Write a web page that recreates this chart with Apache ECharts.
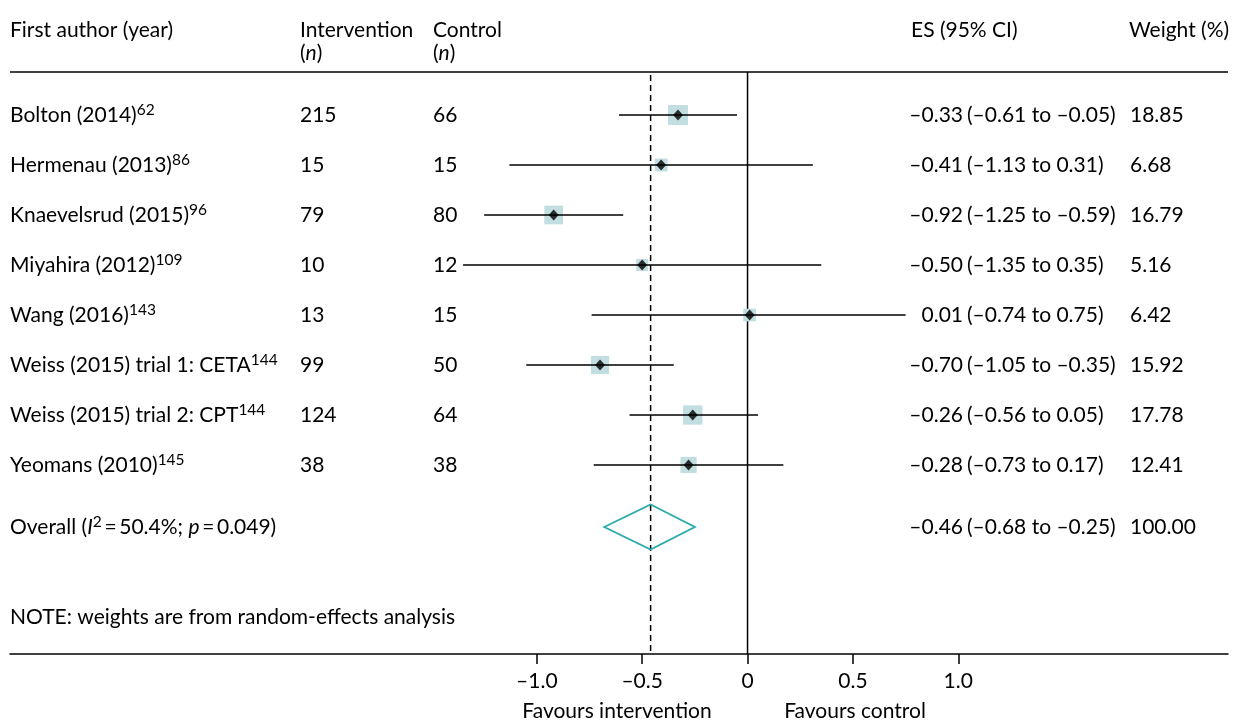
<!DOCTYPE html>
<html>
<head>
<meta charset="utf-8">
<script src="https://cdn.jsdelivr.net/npm/echarts@6/dist/echarts.min.js"></script>
<style>html,body{margin:0;padding:0;background:#fff;}#c{width:1233px;height:720px;}</style>
</head>
<body>
<div id="c"></div>
<script>
const authors = ['Bolton (2014)', 'Hermenau (2013)', 'Knaevelsrud (2015)', 'Miyahira (2012)', 'Wang (2016)', 'Weiss (2015) trial 1: CETA', 'Weiss (2015) trial 2: CPT', 'Yeomans (2010)'];
const refs = ['62', '86', '96', '109', '143', '144', '144', '145'];
const nIntervention = [215, 15, 79, 10, 13, 99, 124, 38];
const nControl = [66, 15, 80, 12, 15, 50, 64, 38];
const es = [-0.33, -0.41, -0.92, -0.50, 0.01, -0.70, -0.26, -0.28];
const ciLow = [-0.61, -1.13, -1.25, -1.35, -0.74, -1.05, -0.56, -0.73];
const ciHigh = [-0.05, 0.31, -0.59, 0.35, 0.75, -0.35, 0.05, 0.17];
const weights = [18.85, 6.68, 16.79, 5.16, 6.42, 15.92, 17.78, 12.41];
const overallEs = [-0.46];
const overallLow = [-0.68];
const overallHigh = [-0.25];
const overallWeight = [100.00];
const xTicks = [-1.0, -0.5, 0, 0.5, 1.0];
const xTickLabels = ['–1.0', '–0.5', '0', '0.5', '1.0'];

const FONT = 'Lato';
const FS = 21;
const LH = 26;
const COL = {author: 10, interv: 300, control: 433, esRight: 963, ciLeft: 967, weight: 1130};
const Y_HEAD = 0.14, Y_BOTTOM = 11.78, Y_OVERALL = 9.24, Y_NOTE = 11.04;
const X_MIN = -3.5, X_MAX = 2.28;

const fmt = v => (v < 0 ? '–' : '') + Math.abs(v).toFixed(2);
const rich = {
  sup: {fontSize: 15.5, fontFamily: FONT, verticalAlign: 'top', lineHeight: LH, fill: '#000'},
  it: {fontStyle: 'italic', fontSize: FS, fontFamily: FONT, lineHeight: LH, fill: '#000'},
  n: {fontSize: FS, fontFamily: FONT, lineHeight: LH, fill: '#000'}
};

function txt(x, y, text, align) {
  return {type: 'text', x: x, y: y, style: {text: text, fontFamily: FONT, fontSize: FS, fill: '#000', align: align || 'left', verticalAlign: 'middle', rich: rich, lineHeight: LH}};
}
function head(x, y, text) {
  return {type: 'text', x: x, y: y, style: {text: text, rich: rich, fontFamily: FONT, fontSize: FS, fill: '#000', align: 'left', verticalAlign: 'middle', lineHeight: LH}};
}

const tableData = authors.map((a, i) => [i, i + 1]);

const chart = echarts.init(document.getElementById('c'), null, {renderer: 'canvas'});
chart.setOption({
  animation: false,
  backgroundColor: '#fff',
  grid: {left: 10, right: 5, top: 65, bottom: 66, containLabel: false},
  xAxis: {
    type: 'value', min: X_MIN, max: X_MAX, position: 'bottom',
    axisLine: {show: true, onZero: false, lineStyle: {color: '#000', width: 1.5}},
    axisTick: {show: true, customValues: xTicks, length: 10, lineStyle: {color: '#000', width: 1.5}},
    axisLabel: {show: true, customValues: xTicks, margin: 17, color: '#000', fontFamily: FONT, fontSize: FS,
      formatter: v => { const k = xTicks.findIndex(t => Math.abs(t - v) < 1e-9); return k >= 0 ? xTickLabels[k] : ''; }},
    splitLine: {show: false}
  },
  yAxis: {type: 'value', min: 0, max: Y_BOTTOM, inverse: true, show: false},
  graphic: [
    head(10, 30, 'First author (year)'),
    head(300, 30, 'Intervention'),
    head(300, 53, '({it|n})'),
    head(433, 30, 'Control'),
    head(433, 53, '({it|n})'),
    head(911, 30, 'ES (95% CI)'),
    head(1129, 30, 'Weight (%)'),
    {type: 'text', x: 617, y: 711, style: {text: 'Favours intervention', fontFamily: FONT, fontSize: FS, fill: '#000', align: 'center', verticalAlign: 'middle'}},
    {type: 'text', x: 855, y: 711, style: {text: 'Favours control', fontFamily: FONT, fontSize: FS, fill: '#000', align: 'center', verticalAlign: 'middle'}}
  ],
  series: [
    {
      type: 'line', symbol: 'none', silent: true,
      data: [[X_MIN, Y_HEAD], [X_MAX, Y_HEAD]],
      lineStyle: {color: '#000', width: 1.5}, z: 1
    },
    {
      type: 'line', symbol: 'none', silent: true,
      data: [[0, Y_HEAD], [0, Y_BOTTOM]],
      lineStyle: {color: '#000', width: 1.5}, z: 1
    },
    {
      type: 'line', symbol: 'none', silent: true,
      data: [[overallEs[0], Y_HEAD + 0.06], [overallEs[0], Y_BOTTOM]],
      lineStyle: {color: '#000', width: 1.5, type: [6, 4]}, z: 1
    },
    {
      type: 'scatter', symbol: 'rect', silent: true,
      data: es.map((v, i) => [v, i + 1, weights[i]]),
      symbolSize: d => 9 + 0.58 * d[2],
      itemStyle: {color: '#c2dee1', opacity: 1}, z: 2
    },
    {
      type: 'custom', silent: true, z: 3,
      data: es.map((v, i) => [ciLow[i], ciHigh[i], i + 1]),
      renderItem: (params, api) => {
        const p1 = api.coord([api.value(0), api.value(2)]);
        const p2 = api.coord([api.value(1), api.value(2)]);
        return {type: 'line', shape: {x1: p1[0], y1: p1[1], x2: p2[0], y2: p2[1]}, style: {stroke: '#000', lineWidth: 1.6}};
      }
    },
    {
      type: 'scatter', symbol: 'diamond', silent: true,
      data: es.map((v, i) => [v, i + 1]),
      symbolSize: [10, 11],
      itemStyle: {color: '#000'}, z: 4
    },
    {
      type: 'custom', silent: true, z: 4,
      data: [[overallLow[0], overallEs[0], overallHigh[0], Y_OVERALL]],
      renderItem: (params, api) => {
        const y = api.value(3);
        const l = api.coord([api.value(0), y]);
        const c = api.coord([api.value(1), y]);
        const r = api.coord([api.value(2), y]);
        const h = 22.5;
        return {type: 'polygon', shape: {points: [[l[0], l[1]], [c[0], c[1] - h], [r[0], r[1]], [c[0], c[1] + h]]},
          style: {stroke: '#2aa9ad', fill: 'none', lineWidth: 1.8}};
      }
    },
    {
      type: 'custom', silent: true, clip: false, z: 5,
      data: tableData,
      renderItem: (params, api) => {
        const i = api.value(0);
        const y = api.coord([0, api.value(1)])[1];
        return {type: 'group', children: [
          txt(COL.author, y, '{n|' + authors[i] + '}{sup|' + refs[i] + '}'),
          txt(COL.interv, y, String(nIntervention[i])),
          txt(COL.control, y, String(nControl[i])),
          txt(COL.esRight, y, fmt(es[i]), 'right'),
          txt(COL.ciLeft, y, '(' + fmt(ciLow[i]) + ' to ' + fmt(ciHigh[i]) + ')'),
          txt(COL.weight, y, weights[i].toFixed(2))
        ]};
      }
    },
    {
      type: 'custom', silent: true, clip: false, z: 5,
      data: [[Y_OVERALL, Y_NOTE]],
      renderItem: (params, api) => {
        const y = api.coord([0, api.value(0)])[1];
        const yn = api.coord([0, api.value(1)])[1];
        return {type: 'group', children: [
          txt(COL.author, y, '{n|Overall (}{it|I}{sup|2}{n|\u2009=\u200950.4%; }{it|p}{n|\u2009=\u20090.049)}'),
          txt(COL.esRight, y, fmt(overallEs[0]), 'right'),
          txt(COL.ciLeft, y, '(' + fmt(overallLow[0]) + ' to ' + fmt(overallHigh[0]) + ')'),
          txt(COL.weight, y, overallWeight[0].toFixed(2)),
          txt(COL.author, yn, 'NOTE: weights are from random-effects analysis')
        ]};
      }
    }
  ]
});
</script>
</body>
</html>
